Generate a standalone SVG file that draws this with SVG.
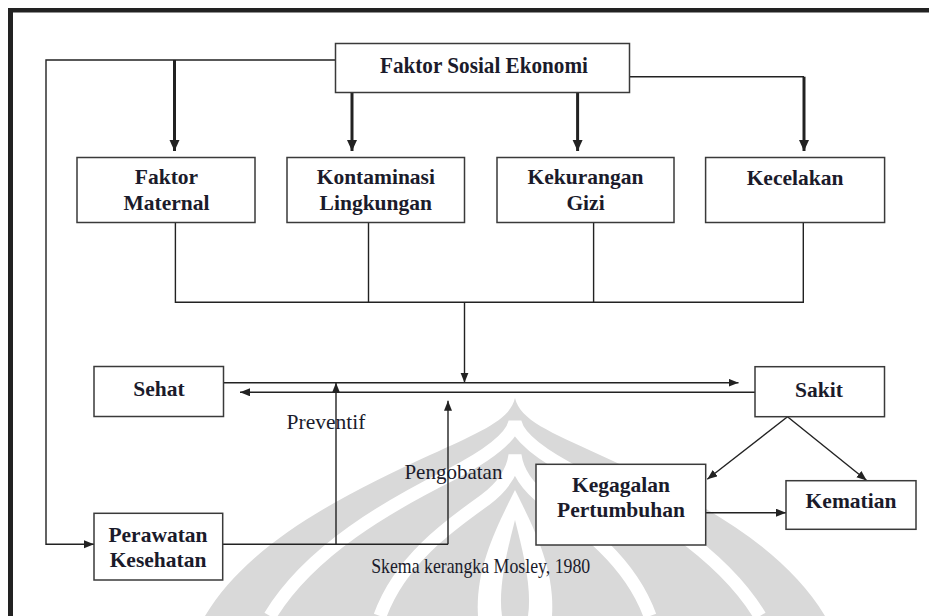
<svg xmlns="http://www.w3.org/2000/svg" width="929" height="616" viewBox="0 0 929 616">
<style>
.box{fill:#fff;stroke:#3a3a3a;stroke-width:1.5}
.lbl{font-family:"Liberation Serif","Times New Roman",serif;font-weight:bold;font-size:21.5px;fill:#1b1b2b;text-anchor:middle}
.reg{font-family:"Liberation Serif","Times New Roman",serif;font-size:21.5px;fill:#1b1b2b;text-anchor:middle}
.thin{fill:none;stroke:#222;stroke-width:1.4}
.thick{fill:none;stroke:#222;stroke-width:3}
.wm{fill:#d9d9d9}
.wmw{fill:none;stroke:#fff;stroke-width:13}
</style>
<defs>
<marker id="ah" markerUnits="userSpaceOnUse" markerWidth="12" markerHeight="10" refX="10" refY="4" orient="auto"><path d="M0,0 L10,4 L0,8 Z" fill="#222"/></marker>
<marker id="ahb" markerUnits="userSpaceOnUse" markerWidth="13" markerHeight="12" refX="11" refY="5" orient="auto"><path d="M0,0 L11,5 L0,10 Z" fill="#222"/></marker>
</defs>
<rect x="0" y="0" width="929" height="616" fill="#fff"/>
<g id="watermark">
<path class="wm" d="M515,398 C510,420 480,432 430,455 C350,492 250,540 205,616 L825,616 C780,540 680,492 600,455 C550,432 520,420 515,398 Z"/>
<path class="wmw" d="M270,616 C310,550 390,505 450,475 C495,452 512,435 515,422 C518,435 535,452 580,475 C640,505 720,550 760,616"/>
<path class="wmw" d="M380,616 C400,560 450,525 485,500 C505,485 513,470 515,455 C517,470 525,485 545,500 C580,525 630,560 650,616"/>
<path d="M515,490 C495,530 475,570 478,616 L552,616 C555,570 535,530 515,490 Z" fill="#fff"/>
<path class="wm" d="M515,520 C506,555 498,590 502,616 L528,616 C532,590 524,555 515,520 Z"/>
</g>
<g id="frame">
<rect x="8" y="8" width="921" height="4.5" fill="#222"/>
<rect x="8" y="8" width="5" height="608" fill="#222"/>
</g>
<g id="connectors">
<path class="thin" d="M335,60 H46 V544.3 H94" marker-end="url(#ah)"/>
<path class="thick" d="M174.5,60 V151" marker-end="url(#ahb)"/>
<path class="thick" d="M352,92.7 V151" marker-end="url(#ahb)"/>
<path class="thick" d="M577.6,92.7 V151" marker-end="url(#ahb)"/>
<path class="thin" d="M630,76.7 H804"/>
<path class="thick" d="M804,76.7 V151" marker-end="url(#ahb)"/>
<path class="thin" d="M175.4,222.3 V302.3 H803.3 V222.3 M368.5,222.3 V302.3 M593.6,222.3 V302.3"/>
<path class="thin" d="M464.5,302.3 V382.7" marker-end="url(#ah)"/>
<path class="thin" d="M223.3,382.7 H738.5" marker-end="url(#ah)"/>
<path class="thin" d="M755,392.3 H240" marker-end="url(#ah)"/>
<path class="thin" d="M222.7,544.3 H448"/>
<path class="thin" d="M336,544.3 V382.7" marker-end="url(#ah)"/>
<path class="thin" d="M448,544.3 V400.7" marker-end="url(#ah)"/>
<path class="thin" d="M787.5,416.7 L707.3,479.3" marker-end="url(#ah)"/>
<path class="thin" d="M787.5,416.7 L866.7,480.5" marker-end="url(#ah)"/>
<path class="thin" d="M705.7,512.7 H786" marker-end="url(#ah)"/>
</g>
<g id="faktor-sosial-ekonomi">
<rect class="box" x="335.5" y="43.5" width="294" height="49"/>
<text class="lbl" x="484" y="73.3" style="font-size:23px" textLength="208" lengthAdjust="spacingAndGlyphs">Faktor Sosial Ekonomi</text>
</g>
<g id="faktor-maternal">
<rect class="box" x="77" y="157.5" width="178" height="65"/>
<text class="lbl" x="166.5" y="184.3">Faktor</text>
<text class="lbl" x="166.5" y="210">Maternal</text>
</g>
<g id="kontaminasi-lingkungan">
<rect class="box" x="287" y="157.5" width="177.5" height="65"/>
<text class="lbl" x="375.8" y="184.3">Kontaminasi</text>
<text class="lbl" x="375.8" y="210">Lingkungan</text>
</g>
<g id="kekurangan-gizi">
<rect class="box" x="497" y="157.5" width="177" height="65"/>
<text class="lbl" x="585.5" y="184.3">Kekurangan</text>
<text class="lbl" x="585.5" y="210">Gizi</text>
</g>
<g id="kecelakan">
<rect class="box" x="705.6" y="157.5" width="179" height="65"/>
<text class="lbl" x="795" y="184.5">Kecelakan</text>
</g>
<g id="sehat">
<rect class="box" x="94" y="366.5" width="129.5" height="50"/>
<text class="lbl" x="159" y="395.7">Sehat</text>
</g>
<g id="sakit">
<rect class="box" x="755" y="366.7" width="129.5" height="50"/>
<text class="lbl" x="819" y="396.7">Sakit</text>
</g>
<g id="perawatan-kesehatan">
<rect class="box" x="94" y="513.3" width="128.7" height="66.7"/>
<text class="lbl" x="158" y="541.7">Perawatan</text>
<text class="lbl" x="158" y="566.7">Kesehatan</text>
</g>
<g id="kegagalan-pertumbuhan">
<rect class="box" x="536" y="464.3" width="169.7" height="80.7"/>
<text class="lbl" x="621" y="491.7">Kegagalan</text>
<text class="lbl" x="621" y="516.7">Pertumbuhan</text>
</g>
<g id="kematian">
<rect class="box" x="786" y="480.7" width="130" height="48.6"/>
<text class="lbl" x="851" y="507.7">Kematian</text>
</g>
<g id="labels">
<text class="reg" x="326" y="429.3">Preventif</text>
<text class="reg" x="453.4" y="479" style="font-size:21px">Pengobatan</text>
<text class="reg" x="480.7" y="572.7" style="font-size:21px" textLength="219" lengthAdjust="spacingAndGlyphs">Skema kerangka Mosley, 1980</text>
</g>
</svg>
